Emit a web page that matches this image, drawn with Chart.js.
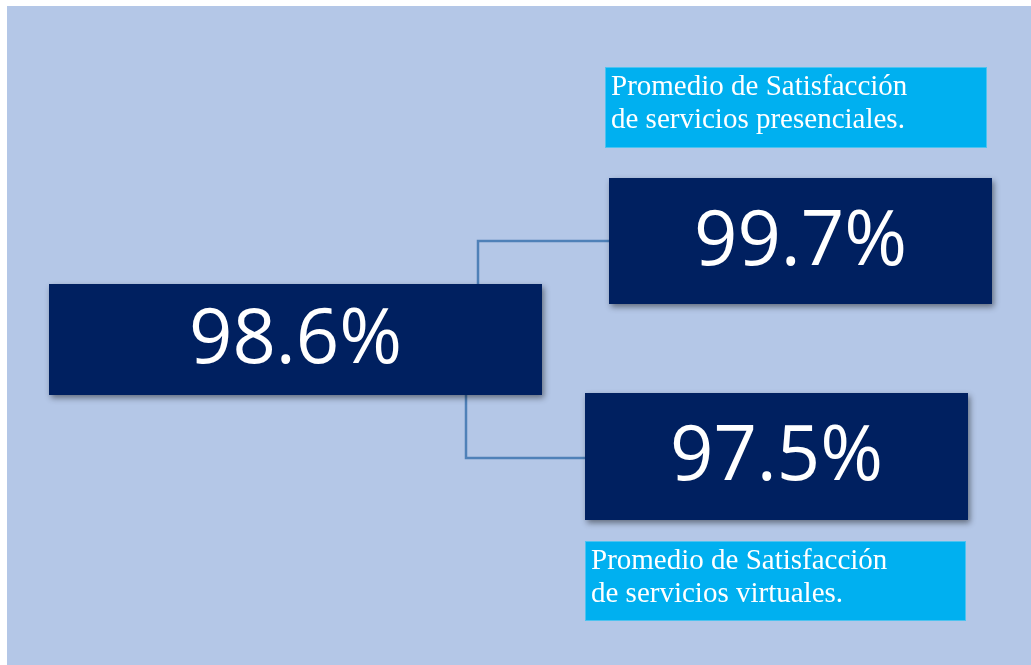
<!DOCTYPE html>
<html>
<head>
<meta charset="utf-8">
<script src="https://cdn.jsdelivr.net/npm/chart.js@4/dist/chart.umd.min.js"></script>
<style>
  html, body { margin: 0; padding: 0; background: #ffffff; }
  #wrap { width: 1031px; height: 665px; }
</style>
</head>
<body>
<div id="wrap"><canvas id="c" width="1031" height="665"></canvas></div>
<script>
// ---- Data ----
const categories = ['General', 'Presenciales', 'Virtuales'];
const values = [98.6, 99.7, 97.5];
const captions = [
  [],
  ['Promedio de Satisfacción', 'de servicios presenciales.'],
  ['Promedio de Satisfacción', 'de servicios virtuales.']
];

// ---- Layout (scale units = page units) ----
const valueBoxes = [
  { x0: 49,  y0: 284, x1: 542, y1: 395 },
  { x0: 609, y0: 178, x1: 992, y1: 304 },
  { x0: 585, y0: 393, x1: 968, y1: 520 }
];
const captionBoxes = [
  null,
  { x0: 605, y0: 67,  x1: 987, y1: 148 },
  { x0: 585, y0: 541, x1: 966, y1: 621 }
];
const connectors = [
  [[478, 284], [478, 241], [609, 241]],
  [[466, 395], [466, 458], [585, 458]]
];
const panel = { x0: 7, y0: 6, x1: 1031, y1: 665 };

const colors = {
  page: '#ffffff',
  panel: '#B4C7E7',
  navy: '#002060',
  cyan: '#00B0F0',
  cyanEdge: '#4DC3F0',
  line: '#4F81B8',
  text: '#ffffff'
};

const infographic = {
  id: 'infographic',
  beforeDraw(chart) {
    const ctx = chart.ctx;
    const xs = chart.scales.x, ys = chart.scales.y;
    const X = v => xs.getPixelForValue(v);
    const Y = v => ys.getPixelForValue(v);
    const rect = b => [X(b.x0), Y(b.y0), X(b.x1) - X(b.x0), Y(b.y1) - Y(b.y0)];

    ctx.save();
    ctx.fillStyle = colors.page;
    ctx.fillRect(0, 0, chart.width, chart.height);
    ctx.fillStyle = colors.panel;
    ctx.fillRect(...rect(panel));

    // connectors
    ctx.strokeStyle = colors.line;
    ctx.lineWidth = 2.5;
    connectors.forEach(pts => {
      ctx.beginPath();
      pts.forEach((p, i) => {
        if (i === 0) ctx.moveTo(X(p[0]), Y(p[1]));
        else ctx.lineTo(X(p[0]), Y(p[1]));
      });
      ctx.stroke();
    });

    // value boxes
    values.forEach((v, i) => {
      const r = rect(valueBoxes[i]);
      ctx.save();
      ctx.shadowColor = 'rgba(0,0,0,0.45)';
      ctx.shadowBlur = 6;
      ctx.shadowOffsetX = 2;
      ctx.shadowOffsetY = 3;
      ctx.fillStyle = colors.navy;
      ctx.fillRect(...r);
      ctx.restore();
      ctx.fillStyle = colors.text;
      ctx.font = '76px "Open Sans", "Noto Sans", sans-serif';
      ctx.textAlign = 'center';
      ctx.textBaseline = 'middle';
      ctx.fillText(v.toFixed(1) + '%', r[0] + r[2] / 2, r[1] + r[3] / 2 + 2);
    });

    // caption boxes
    captions.forEach((lines, i) => {
      const b = captionBoxes[i];
      if (!b || !lines.length) return;
      const r = rect(b);
      ctx.fillStyle = colors.cyan;
      ctx.fillRect(...r);
      ctx.strokeStyle = colors.cyanEdge;
      ctx.lineWidth = 1;
      ctx.strokeRect(r[0] + 0.5, r[1] + 0.5, r[2] - 1, r[3] - 1);
      ctx.fillStyle = colors.text;
      ctx.font = '29px "Liberation Serif", "Times New Roman", serif';
      ctx.textAlign = 'left';
      ctx.textBaseline = 'alphabetic';
      lines.forEach((t, k) => {
        ctx.fillText(t, r[0] + 6, r[1] + 28 + k * 33);
      });
    });
    ctx.restore();
  }
};

new Chart(document.getElementById('c'), {
  type: 'scatter',
  data: { labels: categories, datasets: [{ data: [], showLine: false }] },
  options: {
    responsive: false,
    animation: false,
    layout: { padding: 0 },
    plugins: { legend: { display: false }, tooltip: { enabled: false } },
    scales: {
      x: { type: 'linear', min: 0, max: 1031, display: false },
      y: { type: 'linear', min: 0, max: 665, reverse: true, display: false }
    }
  },
  plugins: [infographic]
});
</script>
</body>
</html>
